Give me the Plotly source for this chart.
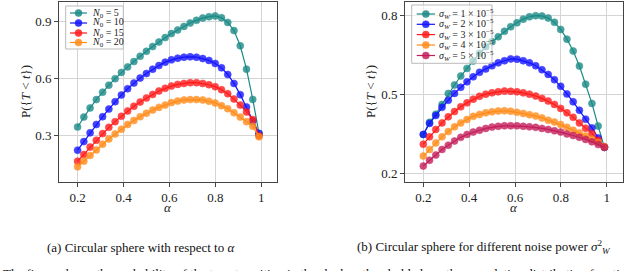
import plotly.graph_objects as go

W, H = 640, 271

alpha = [0.2000, 0.2272, 0.2545, 0.2817, 0.3090, 0.3362, 0.3634, 0.3907, 0.4179, 0.4452,
         0.4724, 0.4997, 0.5269, 0.5541, 0.5814, 0.6086, 0.6359, 0.6631, 0.6903, 0.7176,
         0.7448, 0.7721, 0.7993, 0.8266, 0.8538, 0.8810, 0.9083, 0.9355, 0.9628, 0.9900]

# panel (a)
n0_labels = ["<i>N</i><sub>0</sub> = 5", "<i>N</i><sub>0</sub> = 10",
             "<i>N</i><sub>0</sub> = 15", "<i>N</i><sub>0</sub> = 20"]
n0_5 = [0.346, 0.398, 0.446, 0.490, 0.529, 0.566, 0.600, 0.633, 0.662, 0.690,
        0.718, 0.744, 0.769, 0.793, 0.816, 0.837, 0.856, 0.875, 0.893, 0.907,
        0.919, 0.926, 0.930, 0.921, 0.896, 0.853, 0.773, 0.650, 0.491, 0.312]
n0_10 = [0.224, 0.269, 0.315, 0.359, 0.400, 0.440, 0.479, 0.514, 0.547, 0.577,
         0.603, 0.627, 0.650, 0.669, 0.687, 0.699, 0.708, 0.713, 0.715, 0.713,
         0.706, 0.696, 0.680, 0.657, 0.622, 0.575, 0.516, 0.451, 0.377, 0.312]
n0_15 = [0.166, 0.201, 0.240, 0.276, 0.311, 0.344, 0.374, 0.402, 0.430, 0.455,
         0.477, 0.498, 0.517, 0.535, 0.549, 0.561, 0.570, 0.575, 0.579, 0.579,
         0.575, 0.568, 0.558, 0.542, 0.521, 0.493, 0.461, 0.425, 0.385, 0.300]
n0_20 = [0.136, 0.166, 0.196, 0.225, 0.255, 0.283, 0.309, 0.334, 0.359, 0.380,
         0.400, 0.418, 0.435, 0.449, 0.461, 0.474, 0.482, 0.488, 0.490, 0.490,
         0.488, 0.481, 0.472, 0.458, 0.442, 0.421, 0.398, 0.374, 0.350, 0.294]

# panel (b)
sw_labels = ["<i>σ</i><sub><i>W</i></sub> = 1 × 10<sup>−5</sup>",
             "<i>σ</i><sub><i>W</i></sub> = 2 × 10<sup>−5</sup>",
             "<i>σ</i><sub><i>W</i></sub> = 3 × 10<sup>−5</sup>",
             "<i>σ</i><sub><i>W</i></sub> = 4 × 10<sup>−5</sup>",
             "<i>σ</i><sub><i>W</i></sub> = 5 × 10<sup>−5</sup>"]
sw_1 = [0.349, 0.395, 0.426, 0.463, 0.505, 0.537, 0.571, 0.600, 0.628, 0.657,
        0.682, 0.701, 0.720, 0.741, 0.758, 0.773, 0.787, 0.796, 0.800, 0.799,
        0.791, 0.775, 0.748, 0.711, 0.666, 0.609, 0.540, 0.467, 0.381, 0.300]
sw_2 = [0.349, 0.391, 0.421, 0.452, 0.479, 0.505, 0.528, 0.549, 0.568, 0.585,
        0.598, 0.610, 0.621, 0.629, 0.636, 0.635, 0.629, 0.621, 0.610, 0.595,
        0.577, 0.557, 0.532, 0.503, 0.473, 0.441, 0.407, 0.374, 0.336, 0.300]
sw_3 = [0.312, 0.340, 0.368, 0.393, 0.416, 0.436, 0.454, 0.469, 0.483, 0.494,
        0.502, 0.507, 0.511, 0.514, 0.513, 0.511, 0.507, 0.502, 0.495, 0.486,
        0.476, 0.463, 0.448, 0.431, 0.414, 0.393, 0.373, 0.353, 0.327, 0.302]
sw_4 = [0.267, 0.292, 0.317, 0.340, 0.360, 0.378, 0.393, 0.406, 0.418, 0.425,
        0.431, 0.435, 0.438, 0.439, 0.437, 0.433, 0.429, 0.424, 0.419, 0.412,
        0.403, 0.396, 0.387, 0.376, 0.365, 0.355, 0.343, 0.331, 0.319, 0.302]
sw_5 = [0.229, 0.251, 0.271, 0.292, 0.308, 0.324, 0.338, 0.349, 0.358, 0.365,
        0.372, 0.377, 0.380, 0.382, 0.382, 0.382, 0.380, 0.378, 0.376, 0.372,
        0.368, 0.363, 0.358, 0.351, 0.345, 0.338, 0.330, 0.321, 0.311, 0.300]

x_ticks = [0.2, 0.4, 0.6, 0.8, 1.0]
x_ticktext = ["0.2", "0.4", "0.6", "0.8", "1"]
ya_ticks = [0.3, 0.6, 0.9]
yb_ticks = [0.2, 0.5, 0.8]

colors_a = ["#1a8a86", "#1414ff", "#ff1a1a", "#ff8c1a"]
colors_b = ["#1a8a86", "#1414ff", "#ff1a1a", "#ff8c1a", "#c41e5a"]

SERIF = "Liberation Serif"

def px(x):
    return x / W

def py(y):
    return 1 - y / H

fig = go.Figure()

for vals, col, name in zip([n0_5, n0_10, n0_15, n0_20], colors_a, n0_labels):
    fig.add_trace(go.Scatter(x=alpha, y=vals, mode="lines+markers", name=name,
                             xaxis="x", yaxis="y", showlegend=False,
                             line=dict(color=col, width=1.2),
                             marker=dict(size=7, color=col, opacity=0.8,
                                         line=dict(color=col, width=0.6))))

for vals, col, name in zip([sw_1, sw_2, sw_3, sw_4, sw_5], colors_b, sw_labels):
    fig.add_trace(go.Scatter(x=alpha, y=vals, mode="lines+markers", name=name,
                             xaxis="x2", yaxis="y2", showlegend=False,
                             line=dict(color=col, width=1.2),
                             marker=dict(size=7, color=col, opacity=0.8,
                                         line=dict(color=col, width=0.6))))

y_top, y_bot = 1.5, 181.7
axis_common = dict(showgrid=True, gridcolor="#d4d4d4", gridwidth=1,
                   showline=True, linecolor="#444444", linewidth=1.3, mirror=True,
                   ticks="outside", ticklen=4, tickcolor="#444444", tickwidth=1,
                   zeroline=False, tickfont=dict(family=SERIF, size=13, color="#222"))

fig.update_layout(
    width=W, height=H, margin=dict(l=0, r=0, t=0, b=0),
    paper_bgcolor="white", plot_bgcolor="white", showlegend=False,
    font=dict(family=SERIF),
    xaxis=dict(domain=[px(59.3), px(277)], range=[0.1204, 1.0683],
               tickvals=x_ticks, ticktext=x_ticktext, anchor="y", **axis_common),
    yaxis=dict(domain=[py(y_bot), py(y_top)], range=[0.058, 1.006],
               tickvals=ya_ticks, ticktext=["0.3", "0.6", "0.9"], anchor="x", **axis_common),
    xaxis2=dict(domain=[px(405.3), px(622.7)], range=[0.1215, 1.0698],
                tickvals=x_ticks, ticktext=x_ticktext, anchor="y2", **axis_common),
    yaxis2=dict(domain=[py(y_bot), py(y_top)], range=[0.1696, 0.854],
                tickvals=yb_ticks, ticktext=["0.2", "0.5", "0.8"], anchor="x2", **axis_common),
)

shapes = []
annotations = []

def legend(box, x_line, x_text, rows, labels, cols, bg):
    x0, y0, x1, y1 = box
    shapes.append(dict(type="rect", xref="paper", yref="paper",
                       x0=px(x0), x1=px(x1), y0=py(y1), y1=py(y0),
                       fillcolor=bg, line=dict(color="#bbbbbb", width=1), layer="above"))
    for ry, lab, col in zip(rows, labels, cols):
        shapes.append(dict(type="line", xref="paper", yref="paper",
                           x0=px(x_line[0]), x1=px(x_line[1]), y0=py(ry), y1=py(ry),
                           line=dict(color=col, width=1.2), layer="above"))
        xc = (x_line[0] + x_line[1]) / 2
        shapes.append(dict(type="circle", xref="paper", yref="paper",
                           xsizemode="pixel", ysizemode="pixel",
                           xanchor=px(xc), yanchor=py(ry),
                           x0=-3.5, x1=3.5, y0=-3.5, y1=3.5,
                           fillcolor=col, opacity=0.85,
                           line=dict(color=col, width=0.6), layer="above"))
        annotations.append(dict(xref="paper", yref="paper", x=px(x_text), y=py(ry),
                                xanchor="left", yanchor="middle", showarrow=False,
                                text=lab, font=dict(family=SERIF, size=10, color="#222")))

legend((65.7, 6, 123.3, 49), (70, 87), (90), [13, 23, 33, 42.5], n0_labels, colors_a,
       "rgba(255,255,255,0.9)")
legend((411.7, 5, 492, 63.3), (416.7, 435), (436.5), [14, 24.3, 34.6, 45, 55.5], sw_labels,
       colors_b, "rgba(255,255,255,0.6)")

# axis titles
for xc in [168.2, 514]:
    annotations.append(dict(xref="paper", yref="paper", x=px(xc), y=py(207),
                            xanchor="center", yanchor="middle", showarrow=False,
                            text="<i>α</i>", font=dict(family=SERIF, size=13, color="#222")))
for xc in [25, 370]:
    annotations.append(dict(xref="paper", yref="paper", x=px(xc), y=py(92),
                            xanchor="center", yanchor="middle", showarrow=False, textangle=-90,
                            text="P({<i>T</i> &lt; <i>t</i>})",
                            font=dict(family=SERIF, size=13, color="#222")))

# captions
annotations.append(dict(xref="paper", yref="paper", x=px(140.5), y=py(247),
                        xanchor="center", yanchor="middle", showarrow=False,
                        text="(a) Circular sphere with respect to <i>α</i>",
                        font=dict(family=SERIF, size=13, color="#111")))
annotations.append(dict(xref="paper", yref="paper", x=px(484), y=py(247),
                        xanchor="center", yanchor="middle", showarrow=False,
                        text="(b) Circular sphere for different noise power <i>σ</i><sup>2</sup><sub><i>W</i></sub>",
                        font=dict(family=SERIF, size=13, color="#111")))
annotations.append(dict(xref="paper", yref="paper", x=px(1), y=py(273.5),
                        xanchor="left", yanchor="middle", showarrow=False,
                        text="The figure shows the probability of the target position in the shadow threshold along the cumulative distribution function of",
                        font=dict(family=SERIF, size=13, color="#111")))

fig.update_layout(shapes=shapes, annotations=annotations)
fig.write_html("out.html", config={"displayModeBar": False},
               post_script="document.body.style.margin='0';document.body.style.overflow='hidden';")
